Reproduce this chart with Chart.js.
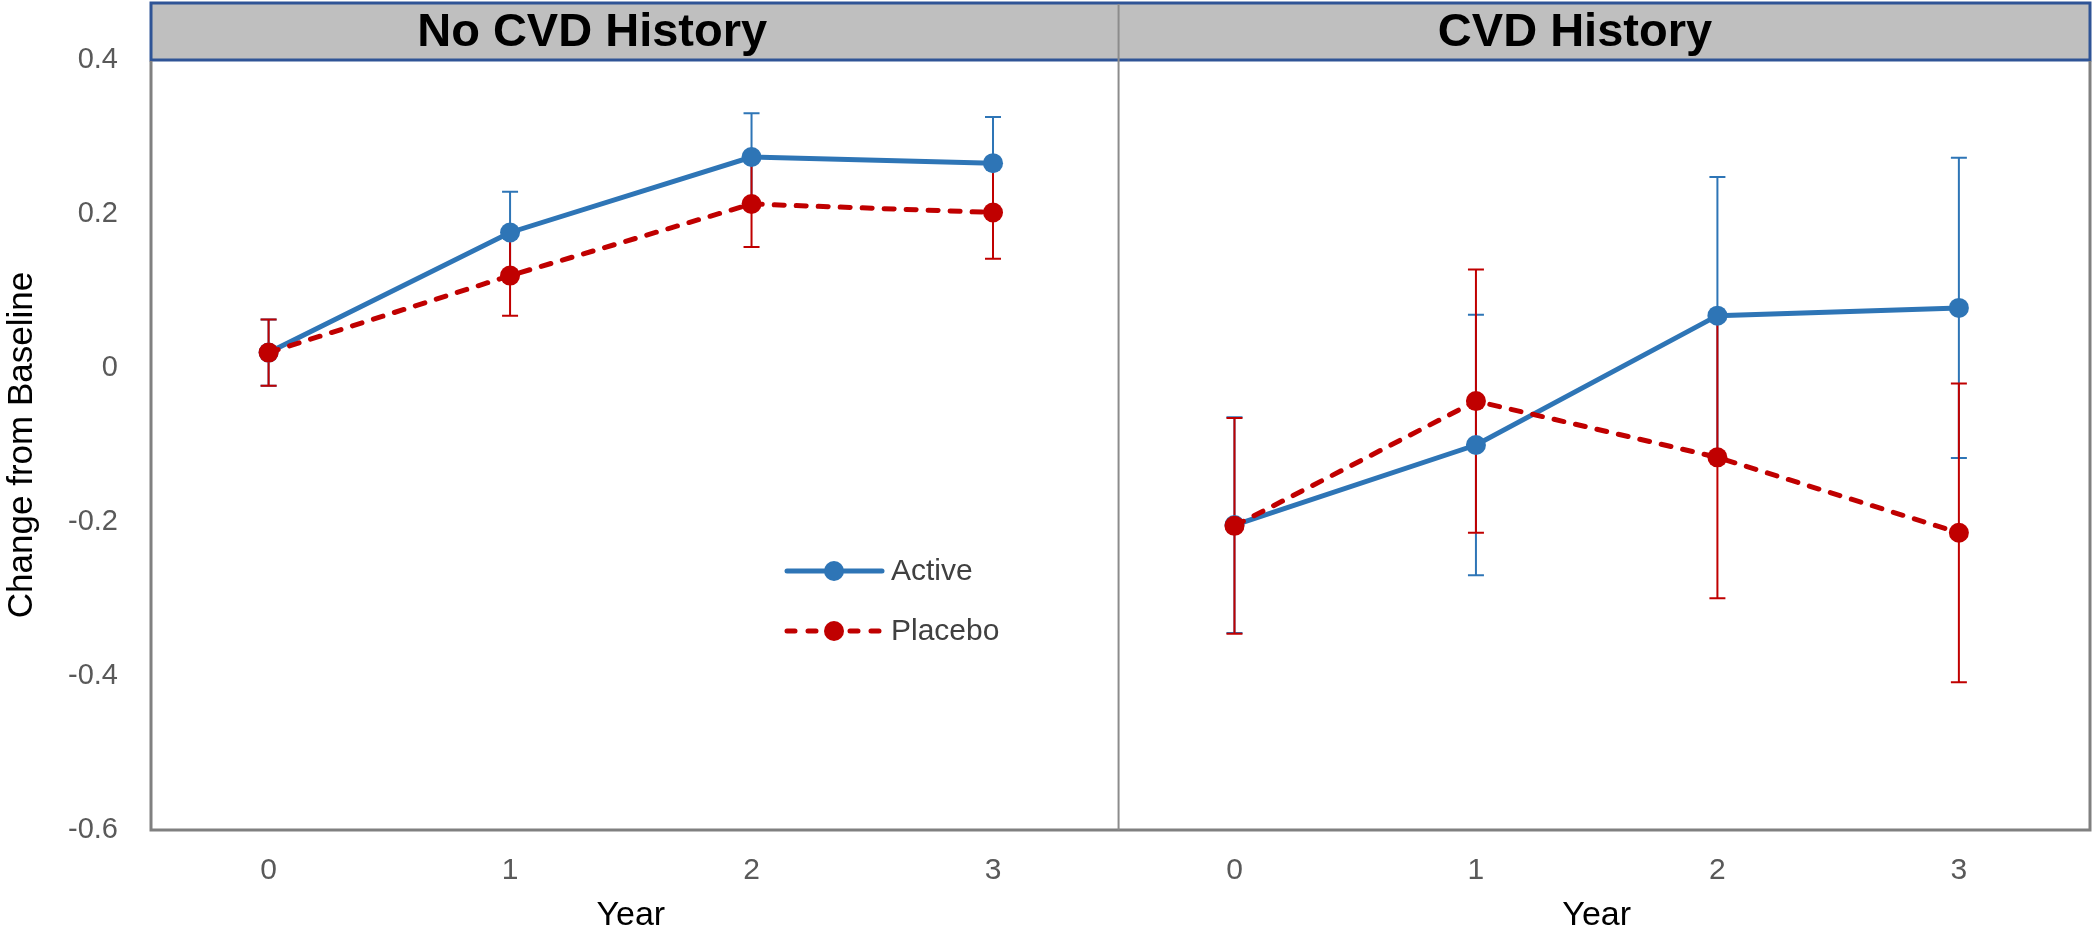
<!DOCTYPE html>
<html>
<head>
<meta charset="utf-8">
<script src="https://cdn.jsdelivr.net/npm/chart.js@4.4.1/dist/chart.umd.min.js"></script>
<style>
  html, body { margin: 0; padding: 0; background: #fff; }
  #chart { display: block; }
</style>
</head>
<body>
<canvas id="chart" width="2100" height="930"></canvas>
<script>
const years = [0, 1, 2, 3];
const xTickLabels = ["0", "1", "2", "3"];
const yTicks = [-0.6, -0.4, -0.2, 0, 0.2, 0.4];
const yTickLabels = ["-0.6", "-0.4", "-0.2", "0", "0.2", "0.4"];
const panels = ["No CVD History", "CVD History"];
const seriesNames = ["Active", "Placebo"];

// No CVD history panel
const noCvdActive = [0.02, 0.176, 0.274, 0.266];
const noCvdActiveErr = [0.043, 0.053, 0.057, 0.06];
const noCvdPlacebo = [0.02, 0.12, 0.213, 0.202];
const noCvdPlaceboErr = [0.043, 0.052, 0.056, 0.06];

// CVD history panel
const cvdActive = [-0.204, -0.1, 0.068, 0.078];
const cvdActiveErr = [0.14, 0.169, 0.18, 0.195];
const cvdPlacebo = [-0.205, -0.043, -0.116, -0.214];
const cvdPlaceboErr = [0.14, 0.171, 0.183, 0.194];

const PANEL_SHIFT = 4;        // second panel sits 4 units to the right on the shared x scale
const DIVIDER_AT = 3.52;
const TITLE_AT = [1.34, 1.41];
const seriesColors = ["#2e75b6", "#c00000"];
const seriesDash = [[], [10, 12]];
const FONT = "'Liberation Sans', Arial, sans-serif";

const panelSeries = [
  [[noCvdActive, noCvdActiveErr], [noCvdPlacebo, noCvdPlaceboErr]],
  [[cvdActive, cvdActiveErr], [cvdPlacebo, cvdPlaceboErr]]
];

function makeDataset(panel, s) {
  const [values, errors] = panelSeries[panel][s];
  return {
    label: seriesNames[s] + " - " + panels[panel],
    data: years.map((yr, i) => ({ x: yr + panel * PANEL_SHIFT, y: values[i] })),
    errors: errors,
    seriesIdx: s,
    borderColor: seriesColors[s],
    backgroundColor: seriesColors[s],
    borderWidth: 5,
    borderDash: seriesDash[s],
    borderCapStyle: s ? "round" : "butt",
    pointRadius: 10,
    pointHoverRadius: 10,
    pointBorderWidth: 0,
    pointBackgroundColor: seriesColors[s],
    tension: 0,
    order: s === 1 ? 0 : 1
  };
}

const datasets = [];
[0, 1].forEach(p => [0, 1].forEach(s => datasets.push(makeDataset(p, s))));

const errorBars = {
  id: "errorBars",
  beforeDatasetsDraw(chart) {
    const { ctx, scales: { x, y } } = chart;
    ctx.save();
    ctx.lineWidth = 2;
    [0, 1].forEach(s => {
      chart.data.datasets.forEach(ds => {
        if (ds.seriesIdx !== s) return;
        ctx.strokeStyle = seriesColors[s];
        ds.data.forEach((pt, i) => {
          const px = x.getPixelForValue(pt.x);
          const top = y.getPixelForValue(pt.y + ds.errors[i]);
          const bot = y.getPixelForValue(pt.y - ds.errors[i]);
          ctx.beginPath();
          ctx.moveTo(px, top); ctx.lineTo(px, bot);
          ctx.moveTo(px - 8, top); ctx.lineTo(px + 8, top);
          ctx.moveTo(px - 8, bot); ctx.lineTo(px + 8, bot);
          ctx.stroke();
        });
      });
    });
    ctx.restore();
  }
};

const decorations = {
  id: "decorations",
  afterDraw(chart) {
    const { ctx, chartArea: a, scales: { x } } = chart;
    const divX = x.getPixelForValue(DIVIDER_AT);
    ctx.save();

    // header band
    ctx.fillStyle = "#bfbfbf";
    ctx.fillRect(a.left, 3, a.right - a.left, a.top - 3);
    ctx.strokeStyle = "#2f5496";
    ctx.lineWidth = 3;
    ctx.strokeRect(a.left, 3, a.right - a.left, a.top - 3);

    // plot frame
    ctx.strokeStyle = "#808080";
    ctx.lineWidth = 3;
    ctx.beginPath();
    ctx.moveTo(a.left, a.top + 1); ctx.lineTo(a.left, a.bottom);
    ctx.lineTo(a.right, a.bottom); ctx.lineTo(a.right, a.top + 1);
    ctx.stroke();
    ctx.lineWidth = 2;
    ctx.strokeStyle = "#8c8c8c";
    ctx.beginPath();
    ctx.moveTo(divX, 4); ctx.lineTo(divX, a.bottom);
    ctx.stroke();

    // panel titles and x titles
    panels.forEach((name, p) => {
      ctx.fillStyle = "#000";
      ctx.font = "bold 47px " + FONT;
      ctx.textAlign = "center";
      ctx.textBaseline = "middle";
      ctx.fillText(name, x.getPixelForValue(TITLE_AT[p] + p * PANEL_SHIFT), 33);
      ctx.font = "34px " + FONT;
      ctx.fillText("Year", x.getPixelForValue(1.5 + p * PANEL_SHIFT), 916);
    });

    // legend
    const lx0 = 787, lx1 = 882, mx = 834, tx = 891;
    const ly = [571, 631];
    seriesNames.forEach((name, s) => {
      ctx.strokeStyle = seriesColors[s];
      ctx.fillStyle = seriesColors[s];
      ctx.lineWidth = 5;
      ctx.lineCap = "round";
      ctx.setLineDash(s ? [8, 13] : []);
      ctx.beginPath();
      ctx.moveTo(lx0, ly[s]); ctx.lineTo(lx1, ly[s]);
      ctx.stroke();
      ctx.setLineDash([]);
      ctx.beginPath();
      ctx.arc(mx, ly[s], 10, 0, Math.PI * 2);
      ctx.fill();
      ctx.fillStyle = "#404040";
      ctx.font = "30px " + FONT;
      ctx.textAlign = "left";
      ctx.textBaseline = "middle";
      ctx.fillText(name, tx, ly[s] + 1);
    });
    ctx.restore();
  }
};

new Chart(document.getElementById("chart").getContext("2d"), {
  type: "line",
  data: { datasets: datasets },
  options: {
    responsive: false,
    animation: false,
    layout: { padding: { top: 60, right: 4, left: 0, bottom: 0 } },
    plugins: { legend: { display: false }, tooltip: { enabled: false } },
    scales: {
      x: {
        type: "linear",
        min: -0.487,
        max: 7.543,
        grid: { display: false, drawTicks: false },
        border: { display: false },
        afterFit: scale => { scale.height = 100; },
        afterBuildTicks: scale => {
          scale.ticks = [0, 1].flatMap(p => years.map(yr => ({ value: yr + p * PANEL_SHIFT })));
        },
        ticks: {
          padding: 23,
          color: "#595959",
          font: { family: FONT, size: 30 },
          callback: v => xTickLabels[v % PANEL_SHIFT]
        }
      },
      y: {
        min: -0.6,
        max: 0.4,
        grid: { display: false, drawTicks: false },
        border: { display: false },
        afterFit: scale => { scale.width = 151; },
        afterBuildTicks: scale => {
          scale.ticks = yTicks.map(v => ({ value: v }));
        },
        ticks: {
          padding: 33,
          color: "#595959",
          font: { family: FONT, size: 29 },
          callback: (v, i) => yTickLabels[i]
        },
        title: {
          display: true,
          text: "Change from Baseline",
          color: "#000",
          padding: { top: 5, bottom: 0 },
          font: { family: FONT, size: 35, lineHeight: 1 }
        }
      }
    }
  },
  plugins: [errorBars, decorations]
});
</script>
</body>
</html>
